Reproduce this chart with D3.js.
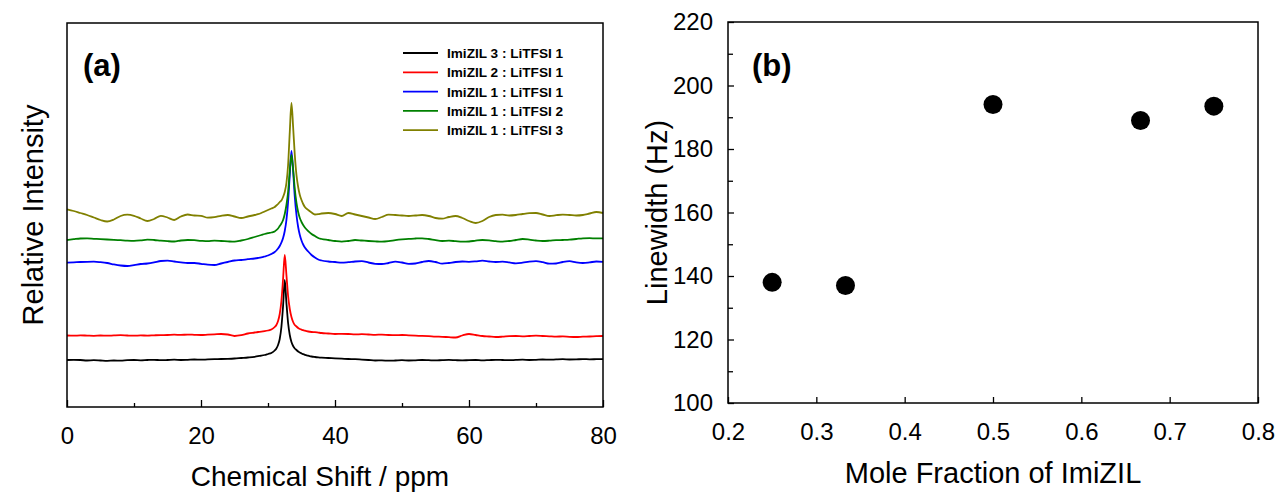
<!DOCTYPE html>
<html>
<head>
<meta charset="utf-8">
<script src="https://cdn.jsdelivr.net/npm/d3@7"></script>
<style>
  body { margin: 0; background: #fff; }
  svg { font-family: "Liberation Sans", Arial, sans-serif; }
</style>
</head>
<body>
<div id="chart"></div>
<script>
// ---- data: panel (a) spectra ----
// shared chemical shift grid (ppm)
var ppm = [0,1,2,3,4,5,6,7,8,9,10,11,12,13,14,15,16,17,18,19,20,21,22,23,24,25,26,27,28,
  28.5,29,29.5,30,30.5,31,
  31.25,31.5,31.75,32,32.25,32.5,32.75,33,33.25,33.5,33.75,34,34.25,34.5,34.75,35,35.25,35.5,
  36,36.5,37,37.5,38,
  39,40,41,42,43,44,45,46,47,48,49,50,51,52,53,54,55,56,57,58,59,60,
  61,62,63,64,65,66,67,68,69,70,71,72,73,74,75,76,77,78,79,80];

var seriesNames = ["ImiZIL 3 : LiTFSI 1", "ImiZIL 2 : LiTFSI 1", "ImiZIL 1 : LiTFSI 1",
                   "ImiZIL 1 : LiTFSI 2", "ImiZIL 1 : LiTFSI 3"];
var seriesColors = ["#000000", "#ff0000", "#0000ff", "#008000", "#808000"];

// relative intensity (arbitrary units, stacked offsets included)
var int31 = [47,47.2,47,46.5,46.8,46.5,46.2,46.5,46.3,46.8,47,46.7,47,47.2,46.8,47,47.3,47,47.2,47.5,47.3,47.6,47.8,48,48.2,48.5,49,49.5,50.2,
  50.8,51.3,52,53,54,56.5,
  58.5,62,68,80,101,127,104,84,72,65,61,58.5,57,55.5,54.5,53.5,52.8,52.2,
  51.3,50.5,50,49.6,49.3,
  49,48.6,48.3,48,47.8,47.4,47,46.5,46.6,46.3,46.5,46.8,46.5,46.7,47,46.8,46.6,46.9,47.1,46.8,46.6,46.9,
  47,46.6,46.9,47.2,47,46.8,47.1,47.3,47,47.2,47.5,47.3,47.6,47.8,47.5,47.6,47.9,47.7,47.8,47.9];

var int21 = [71.5,71.3,71.6,71.4,71.2,71.5,71.3,71.6,71.8,71.5,71.3,71.6,71.4,71.7,71.9,72,72.3,72.1,72.4,72.2,72,72.3,72.6,73,72.5,71,71.8,73.5,74.5,
  75,75.3,75.8,76.5,77.5,80,
  82,86,93,106,128,152,132,111,98,90,85,82,80.5,79,78,77.3,76.8,76.3,
  75.5,75,74.8,74.4,74,
  73.5,73,73.2,73,72.6,72.8,72.5,72.2,72.4,72,71.8,72,71.6,71.3,71.1,70.8,70.4,70.2,69.8,69.5,71.5,73,
  72,71,70.5,70,70.3,70.8,71,70.7,71,71.3,71,70.7,70.4,70.6,70.2,70,70.3,70.5,70.8,71];

var int11 = [144.3,144.6,145,145.2,145.3,144.8,144,142.6,141.5,141,141.8,143,143.5,144.6,146,146.3,145.5,144.7,144,144,143.2,142.3,142,143.5,145,146.5,147,147.8,148.5,
  149,149.6,150.5,151.5,153,155,
  156.5,158.5,161,164.5,169,176,187,205,232,256,236,210,192,180,172,166.5,162.5,159.5,
  155.5,152,149.5,147.5,146.5,
  145.5,145,144.3,144.8,145.5,145.8,144.5,143.2,143,144,145.3,144.5,143.2,143.5,145,146,145,143.3,144,145,145.5,145.2,
  145.6,146.3,145.5,145,145.3,144.6,143.7,144.3,145.3,145.8,144.8,143.3,143.5,145,145.8,144.6,144,144.6,145.5,145.2];

var int12 = [167,167.8,168.5,168.6,168.2,167.8,167.5,167.2,166.8,166.4,166.2,166.6,167.4,167,166.3,165.8,165.5,166.5,167,166.8,166.2,165.8,166.3,166,165.6,165.3,166.5,168,170,
  171,172,173,173.8,174.5,175.5,
  176.8,178.5,181,183.5,187,193,202,215,236,252,238,218,204,195,189,185,182,179.5,
  176,173,171,169,168,
  167,166,165.3,166,167,166.5,166,165.6,165.3,165.8,166.8,167.6,168.2,168.5,168.7,168,166.8,166,166.3,165.8,165.3,165.5,
  166.4,167,166.6,165.8,165.3,166,167,168,167.4,166.5,166,166.3,166.8,167,167.3,168,168.7,168.8,168.6,168.7];

var int13 = [197.6,196,194,192,189.5,187,185.5,187.5,191,192.3,191.2,188.5,186,188,191.2,189.5,187,190.5,192.5,191.5,191.2,189.3,189.8,191.2,192,190.5,189,190.5,192,
  192.8,194,195.5,197,198.5,200,
  201.5,203,205,206.5,210,215,224,242,275,304,280,252,232,220,212,207,203,200,
  197,194.5,192.5,192.8,193.5,
  194,193,191,194,192.5,191,189.5,188,190,192.4,192,191.5,191,191.5,192,191,189,188.3,190,191,189,186,
  184,186,190,192,192.4,191.5,192,193,193.8,194,192.5,191,191.8,192.4,192,191.5,192,193.5,195,194];

var intensities = [int31, int21, int11, int12, int13];

var shiftTicks = [0, 20, 40, 60, 80];
var shiftMinorTicks = [10, 30, 50, 70];

// ---- data: panel (b) linewidths ----
var moleFraction = [0.25, 0.333, 0.5, 0.667, 0.75];
var linewidth = [138, 137, 194, 189, 193.5];
var fracTicks = [0.2, 0.3, 0.4, 0.5, 0.6, 0.7, 0.8];
var lwTicks = [100, 120, 140, 160, 180, 200, 220];
var lwMinorTicks = [110, 130, 150, 170, 190, 210];

// ---- layout ----
var W = 1278, H = 495;
var A = {left: 67, right: 603, top: 23, bottom: 407};
var B = {left: 728, right: 1258, top: 22, bottom: 403};

var svg = d3.select("#chart")
  .append("svg")
    .attr("width", W)
    .attr("height", H);

// ================= panel (a) =================
var xa = d3.scaleLinear().domain([0, 80]).range([A.left, A.right]);
var ya = d3.scaleLinear().domain([0, 384]).range([A.bottom, A.top]);

var ga = svg.append("g");

// spectra
var line = d3.line()
  .x(function(d) { return xa(d[0]); })
  .y(function(d) { return ya(d[1]); })
  .curve(d3.curveMonotoneX);

intensities.forEach(function(vals, i) {
  var pts = ppm.map(function(p, j) { return [p, vals[j]]; });
  ga.append("path")
    .datum(pts)
    .attr("fill", "none")
    .attr("stroke", seriesColors[i])
    .attr("stroke-width", 1.8)
    .attr("stroke-linejoin", "round")
    .attr("d", line);
});

// frame
ga.append("rect")
  .attr("x", A.left).attr("y", A.top)
  .attr("width", A.right - A.left).attr("height", A.bottom - A.top)
  .attr("fill", "none").attr("stroke", "#000").attr("stroke-width", 1.5);

// x axis (ticks point inward)
ga.append("g")
  .attr("transform", "translate(0," + A.bottom + ")")
  .call(d3.axisBottom(xa).tickValues(shiftTicks).tickSizeInner(-7).tickSizeOuter(0).tickPadding(20)
    .tickFormat(d3.format("d")));
ga.append("g")
  .attr("transform", "translate(0," + A.bottom + ")")
  .call(d3.axisBottom(xa).tickValues(shiftMinorTicks).tickSizeInner(-4).tickSizeOuter(0).tickFormat(""));

// legend
var lg = ga.append("g");
seriesNames.forEach(function(name, i) {
  var yy = 53 + i * 19.3;
  lg.append("line")
    .attr("x1", 403).attr("x2", 438).attr("y1", yy).attr("y2", yy)
    .attr("stroke", seriesColors[i]).attr("stroke-width", 1.8);
  lg.append("text")
    .attr("x", 447).attr("y", yy + 5)
    .attr("font-size", 13.6).attr("font-weight", "bold")
    .text(name);
});

ga.append("text")
  .attr("x", 83).attr("y", 76)
  .attr("font-size", 31).attr("font-weight", "bold")
  .text("(a)");

ga.append("text")
  .attr("x", 320).attr("y", 486)
  .attr("text-anchor", "middle").attr("font-size", 28)
  .text("Chemical Shift / ppm");

ga.append("text")
  .attr("transform", "translate(43," + ((A.top + A.bottom) / 2) + ") rotate(-90)")
  .attr("text-anchor", "middle").attr("font-size", 29)
  .text("Relative Intensity");

// ================= panel (b) =================
var xb = d3.scaleLinear().domain([0.2, 0.8]).range([B.left, B.right]);
var yb = d3.scaleLinear().domain([100, 220]).range([B.bottom, B.top]);

var gb = svg.append("g");

gb.append("rect")
  .attr("x", B.left).attr("y", B.top)
  .attr("width", B.right - B.left).attr("height", B.bottom - B.top)
  .attr("fill", "none").attr("stroke", "#000").attr("stroke-width", 1.5);

gb.append("g")
  .attr("transform", "translate(0," + B.bottom + ")")
  .call(d3.axisBottom(xb).tickValues(fracTicks).tickSizeInner(-6).tickSizeOuter(0).tickPadding(20)
    .tickFormat(d3.format(".1f")));

gb.append("g")
  .attr("transform", "translate(" + B.left + ",0)")
  .call(d3.axisLeft(yb).tickValues(lwTicks).tickSizeInner(-6).tickSizeOuter(0).tickPadding(15)
    .tickFormat(d3.format("d")));
gb.append("g")
  .attr("transform", "translate(" + B.left + ",0)")
  .call(d3.axisLeft(yb).tickValues(lwMinorTicks).tickSizeInner(-5).tickSizeOuter(0).tickFormat(""));

gb.selectAll("circle.pt")
  .data(moleFraction)
  .enter().append("circle")
    .attr("class", "pt")
    .attr("cx", function(d) { return xb(d); })
    .attr("cy", function(d, i) { return yb(linewidth[i]); })
    .attr("r", 9.5)
    .attr("fill", "#000");

gb.append("text")
  .attr("x", 752).attr("y", 76)
  .attr("font-size", 31).attr("font-weight", "bold")
  .text("(b)");

gb.append("text")
  .attr("x", (B.left + B.right) / 2).attr("y", 483)
  .attr("text-anchor", "middle").attr("font-size", 29)
  .text("Mole Fraction of ImiZIL");

gb.append("text")
  .attr("transform", "translate(667," + ((B.top + B.bottom) / 2) + ") rotate(-90)")
  .attr("text-anchor", "middle").attr("font-size", 29)
  .text("Linewidth (Hz)");

// common axis styling
svg.selectAll(".domain").remove();
svg.selectAll(".tick line").attr("stroke", "#000").attr("stroke-width", 1.3);
svg.selectAll(".tick text")
  .attr("font-size", 24)
  .attr("font-family", "Liberation Sans, Arial, sans-serif")
  .attr("fill", "#000");
</script>
</body>
</html>
